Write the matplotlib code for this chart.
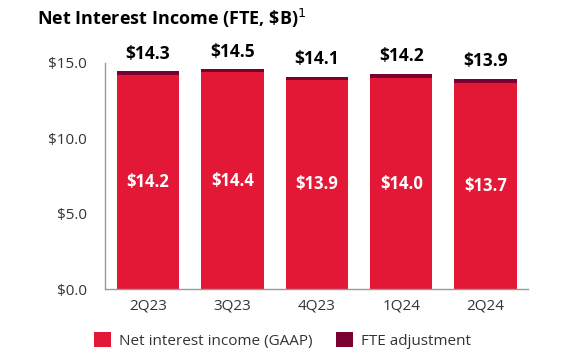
import matplotlib.pyplot as plt
import numpy as np

plt.rcParams['font.family'] = ['Open Sans', 'DejaVu Sans']

quarters = ['2Q23', '3Q23', '4Q23', '1Q24', '2Q24']
gaap = [14.2, 14.4, 13.9, 14.0, 13.7]      # net interest income (GAAP), $B
fte_adj = [0.25, 0.2, 0.2, 0.3, 0.25]      # FTE adjustment as drawn
totals = [14.3, 14.5, 14.1, 14.2, 13.9]    # labelled FTE totals

red = '#E31837'
maroon = '#7B0032'

fig = plt.figure(figsize=(5.64, 3.64), dpi=100)
ax = fig.add_axes([0.186, 0.206, 0.75, 0.621])

x = np.arange(len(quarters))
ax.bar(x, gaap, width=0.74, color=red, label='Net interest income (GAAP)')
ax.bar(x, fte_adj, width=0.74, bottom=gaap, color=maroon, label='FTE adjustment')

for xi, g, f, t in zip(x, gaap, fte_adj, totals):
    ax.text(xi, g / 2, '$%.1f' % g, ha='center', va='center',
            color='white', fontsize=12, fontweight='bold')
    ax.annotate('$%.1f' % t, (xi, g + f), xytext=(0, 6), textcoords='offset points',
                ha='center', va='bottom', fontsize=12.5, fontweight='bold', color='black')

ax.set_xlim(-0.51, 4.5)
ax.set_ylim(0, 15)
ax.set_yticks([0, 5, 10, 15])
ax.set_yticklabels(['$0.0', '$5.0', '$10.0', '$15.0'])
ax.set_xticks(x)
ax.set_xticklabels(quarters)
ax.tick_params(axis='y', length=0, pad=13, labelsize=11, labelcolor='#333333')
ax.tick_params(axis='x', length=0, pad=7, labelsize=11, labelcolor='#333333')

for s in ['top', 'right']:
    ax.spines[s].set_visible(False)
for s in ['left', 'bottom']:
    ax.spines[s].set_color('#9a9a9a')
    ax.spines[s].set_linewidth(1)

fig.text(0.066, 0.95, r'Net Interest Income (FTE, \$B)$^1$', fontsize=13,
         fontweight='bold', va='center', ha='left')

ax.legend(loc='upper left', bbox_to_anchor=(-0.04, -0.165), ncol=2, frameon=False,
          fontsize=11, handlelength=1.1, handleheight=1.1, columnspacing=1.6,
          handletextpad=0.5, borderaxespad=0, labelcolor='#333333')

fig.savefig('out.png', dpi=100)
